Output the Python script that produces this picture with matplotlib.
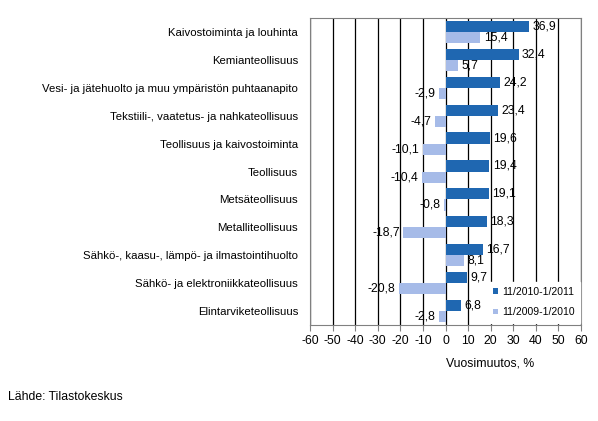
import matplotlib.pyplot as plt
import numpy as np

plt.rcParams['font.family'] = ['Liberation Sans', 'DejaVu Sans']

# --------------------------
# Data (top to bottom)
# --------------------------
categories = [
    "Kaivostoiminta ja louhinta",
    "Kemianteollisuus",
    "Vesi- ja jätehuolto ja muu ympäristön puhtaanapito",
    "Tekstiili-, vaatetus- ja nahkateollisuus",
    "Teollisuus ja kaivostoiminta",
    "Teollisuus",
    "Metsäteollisuus",
    "Metalliteollisuus",
    "Sähkö-, kaasu-, lämpö- ja ilmastointihuolto",
    "Sähkö- ja elektroniikkateollisuus",
    "Elintarviketeollisuus",
]
values_2011 = [36.9, 32.4, 24.2, 23.4, 19.6, 19.4, 19.1, 18.3, 16.7, 9.7, 6.8]
values_2010 = [15.4, 5.7, -2.9, -4.7, -10.1, -10.4, -0.8, -18.7, 8.1, -20.8, -2.8]
series_names = ["11/2010-1/2011", "11/2009-1/2010"]
xticks = list(range(-60, 61, 10))

dark = "#1f67b1"
light = "#a6bbe8"

fig = plt.figure(figsize=(5.98, 4.21), dpi=100)
ax = fig.add_axes([310 / 598, 1 - 325 / 421, 271 / 598, 307 / 421])

n = len(categories)
y = np.arange(n)[::-1]
h = 0.4
ax.barh(y + h / 2, values_2011, height=h, color=dark, label=series_names[0], zorder=3)
ax.barh(y - h / 2, values_2010, height=h, color=light, label=series_names[1], zorder=3)


def fmt(v):
    return f"{v:.1f}".replace(".", ",")


for yi, v in zip(y + h / 2, values_2011):
    ax.text(v + 1.5 if v >= 0 else v - 1.5, yi, fmt(v), ha="left" if v >= 0 else "right",
            va="center", fontsize=8.8, zorder=4)
for yi, v in zip(y - h / 2, values_2010):
    ax.text(v + 1.5 if v >= 0 else v - 1.5, yi, fmt(v), ha="left" if v >= 0 else "right",
            va="center", fontsize=8.8, zorder=4)

ax.set_xlim(-60, 60)
ax.set_ylim(-0.5, n - 0.5)
ax.set_xticks(xticks)
ax.set_xticklabels([str(t) for t in xticks], fontsize=8.8)
ax.set_yticks(y)
ax.set_yticklabels(categories, fontsize=8.2)
ax.tick_params(axis="y", length=0, pad=8.6)
ax.tick_params(axis="x", length=4, direction="out", color="#808080")
ax.grid(axis="x", color="black", linewidth=0.9, zorder=0)
for s in ax.spines.values():
    s.set_color("#808080")

leg = ax.legend(loc="lower right", frameon=True, fontsize=7.5, handlelength=0.45,
                handleheight=0.45, handletextpad=0.4, labelspacing=1.0,
                borderpad=0.5, fancybox=False, facecolor="white", edgecolor="white",
                framealpha=1.0, bbox_to_anchor=(0.995, 0.008), borderaxespad=0)
leg.set_zorder(3.5)

fig.text(490 / 598, 1 - 363 / 421, "Vuosimuutos, %", ha="center", va="center", fontsize=8.8)
fig.text(8 / 598, 1 - 397 / 421, "Lähde: Tilastokeskus", ha="left", va="center", fontsize=8.8)

fig.savefig("out.png", dpi=100)
